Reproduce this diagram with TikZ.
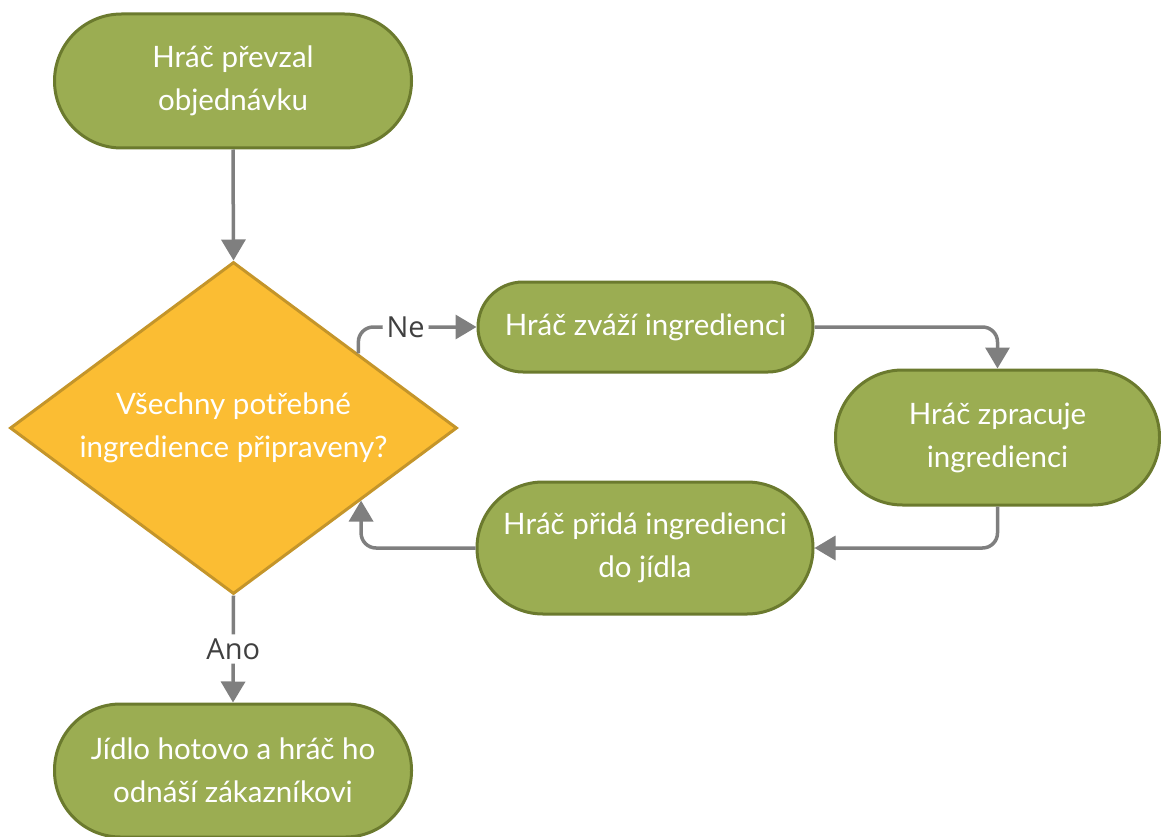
\documentclass[tikz,border=0pt]{standalone}
\usepackage{fontspec}
\setmainfont{Lato}
\newfontfamily\labelfont{Open Sans}
\usetikzlibrary{shapes.geometric,arrows.meta,calc}
\definecolor{stepfill}{HTML}{9BAD52}
\definecolor{stepline}{HTML}{6B7A2E}
\definecolor{decfill}{HTML}{FBBD33}
\definecolor{decline}{HTML}{C4952A}
\definecolor{linkgray}{HTML}{7F7F7F}
\definecolor{labelgray}{HTML}{404040}
\tikzset{
  term/.style={draw=stepline, fill=stepfill, line width=3pt, text=white,
    align=center, inner sep=0pt, font=\fontsize{29.5}{43}\selectfont},
  decbox/.style={diamond, draw=decline, fill=decfill, line width=3pt, inner sep=0pt},
  dectext/.style={text=white, align=center, inner sep=0pt, font=\fontsize{29.5}{43}\selectfont},
  link/.style={draw=linkgray, line width=3.5pt, rounded corners=15pt,
    -{Triangle[width=24pt,length=21pt]}},
  lbl/.style={fill=white, text=labelgray, inner sep=4pt, font=\labelfont\fontsize{29}{32}\selectfont},
}
\begin{document}
\begin{tikzpicture}[x=1pt,y=-1pt]
\useasboundingbox (0,0) rectangle (1161,837);

% process steps
\node[term, minimum width=357pt, minimum height=134pt, rounded corners=67pt] (start) at (233,81) {Hráč převzal\\objednávku};
\node[term, minimum width=335pt, minimum height=90pt, rounded corners=45pt] (weigh) at (645.5,327) {Hráč zváží ingredienci};
\node[term, minimum width=324pt, minimum height=135pt, rounded corners=67pt] (prep) at (997.5,437.5) {Hráč zpracuje\\ingredienci};
\node[term, minimum width=336pt, minimum height=132pt, rounded corners=66pt] (add) at (645,548) {Hráč přidá ingredienci\\do jídla};
\node[term, minimum width=357pt, minimum height=133pt, rounded corners=66pt] (done) at (233,770.5) {Jídlo hotovo a hráč ho\\odnáší zákazníkovi};

% decision
\node[decbox, minimum width=447pt, minimum height=332pt] (dec) at (233.5,428) {};
\node[dectext] (dectxt) at (dec.center) {Všechny potřebné\\ingredience připraveny?};

\coordinate (noout) at ($(dec.north)!0.555!(dec.east)$);
\coordinate (backin) at ($(dec.south)!0.567!(dec.east)$);

% connectors
\draw[link] (start.south) -- (dec.north);
\draw[link] (noout) |- node[lbl, pos=0.7] (ne) {Ne} (weigh.west);
\draw[link] (weigh.east) -| (prep.north);
\draw[link] (prep.south) |- (add.east);
\draw[link] (add.west) -| (backin);
\draw[link] (dec.south) -- node[lbl, midway] (ano) {Ano} (done.north);
\end{tikzpicture}
\end{document}
